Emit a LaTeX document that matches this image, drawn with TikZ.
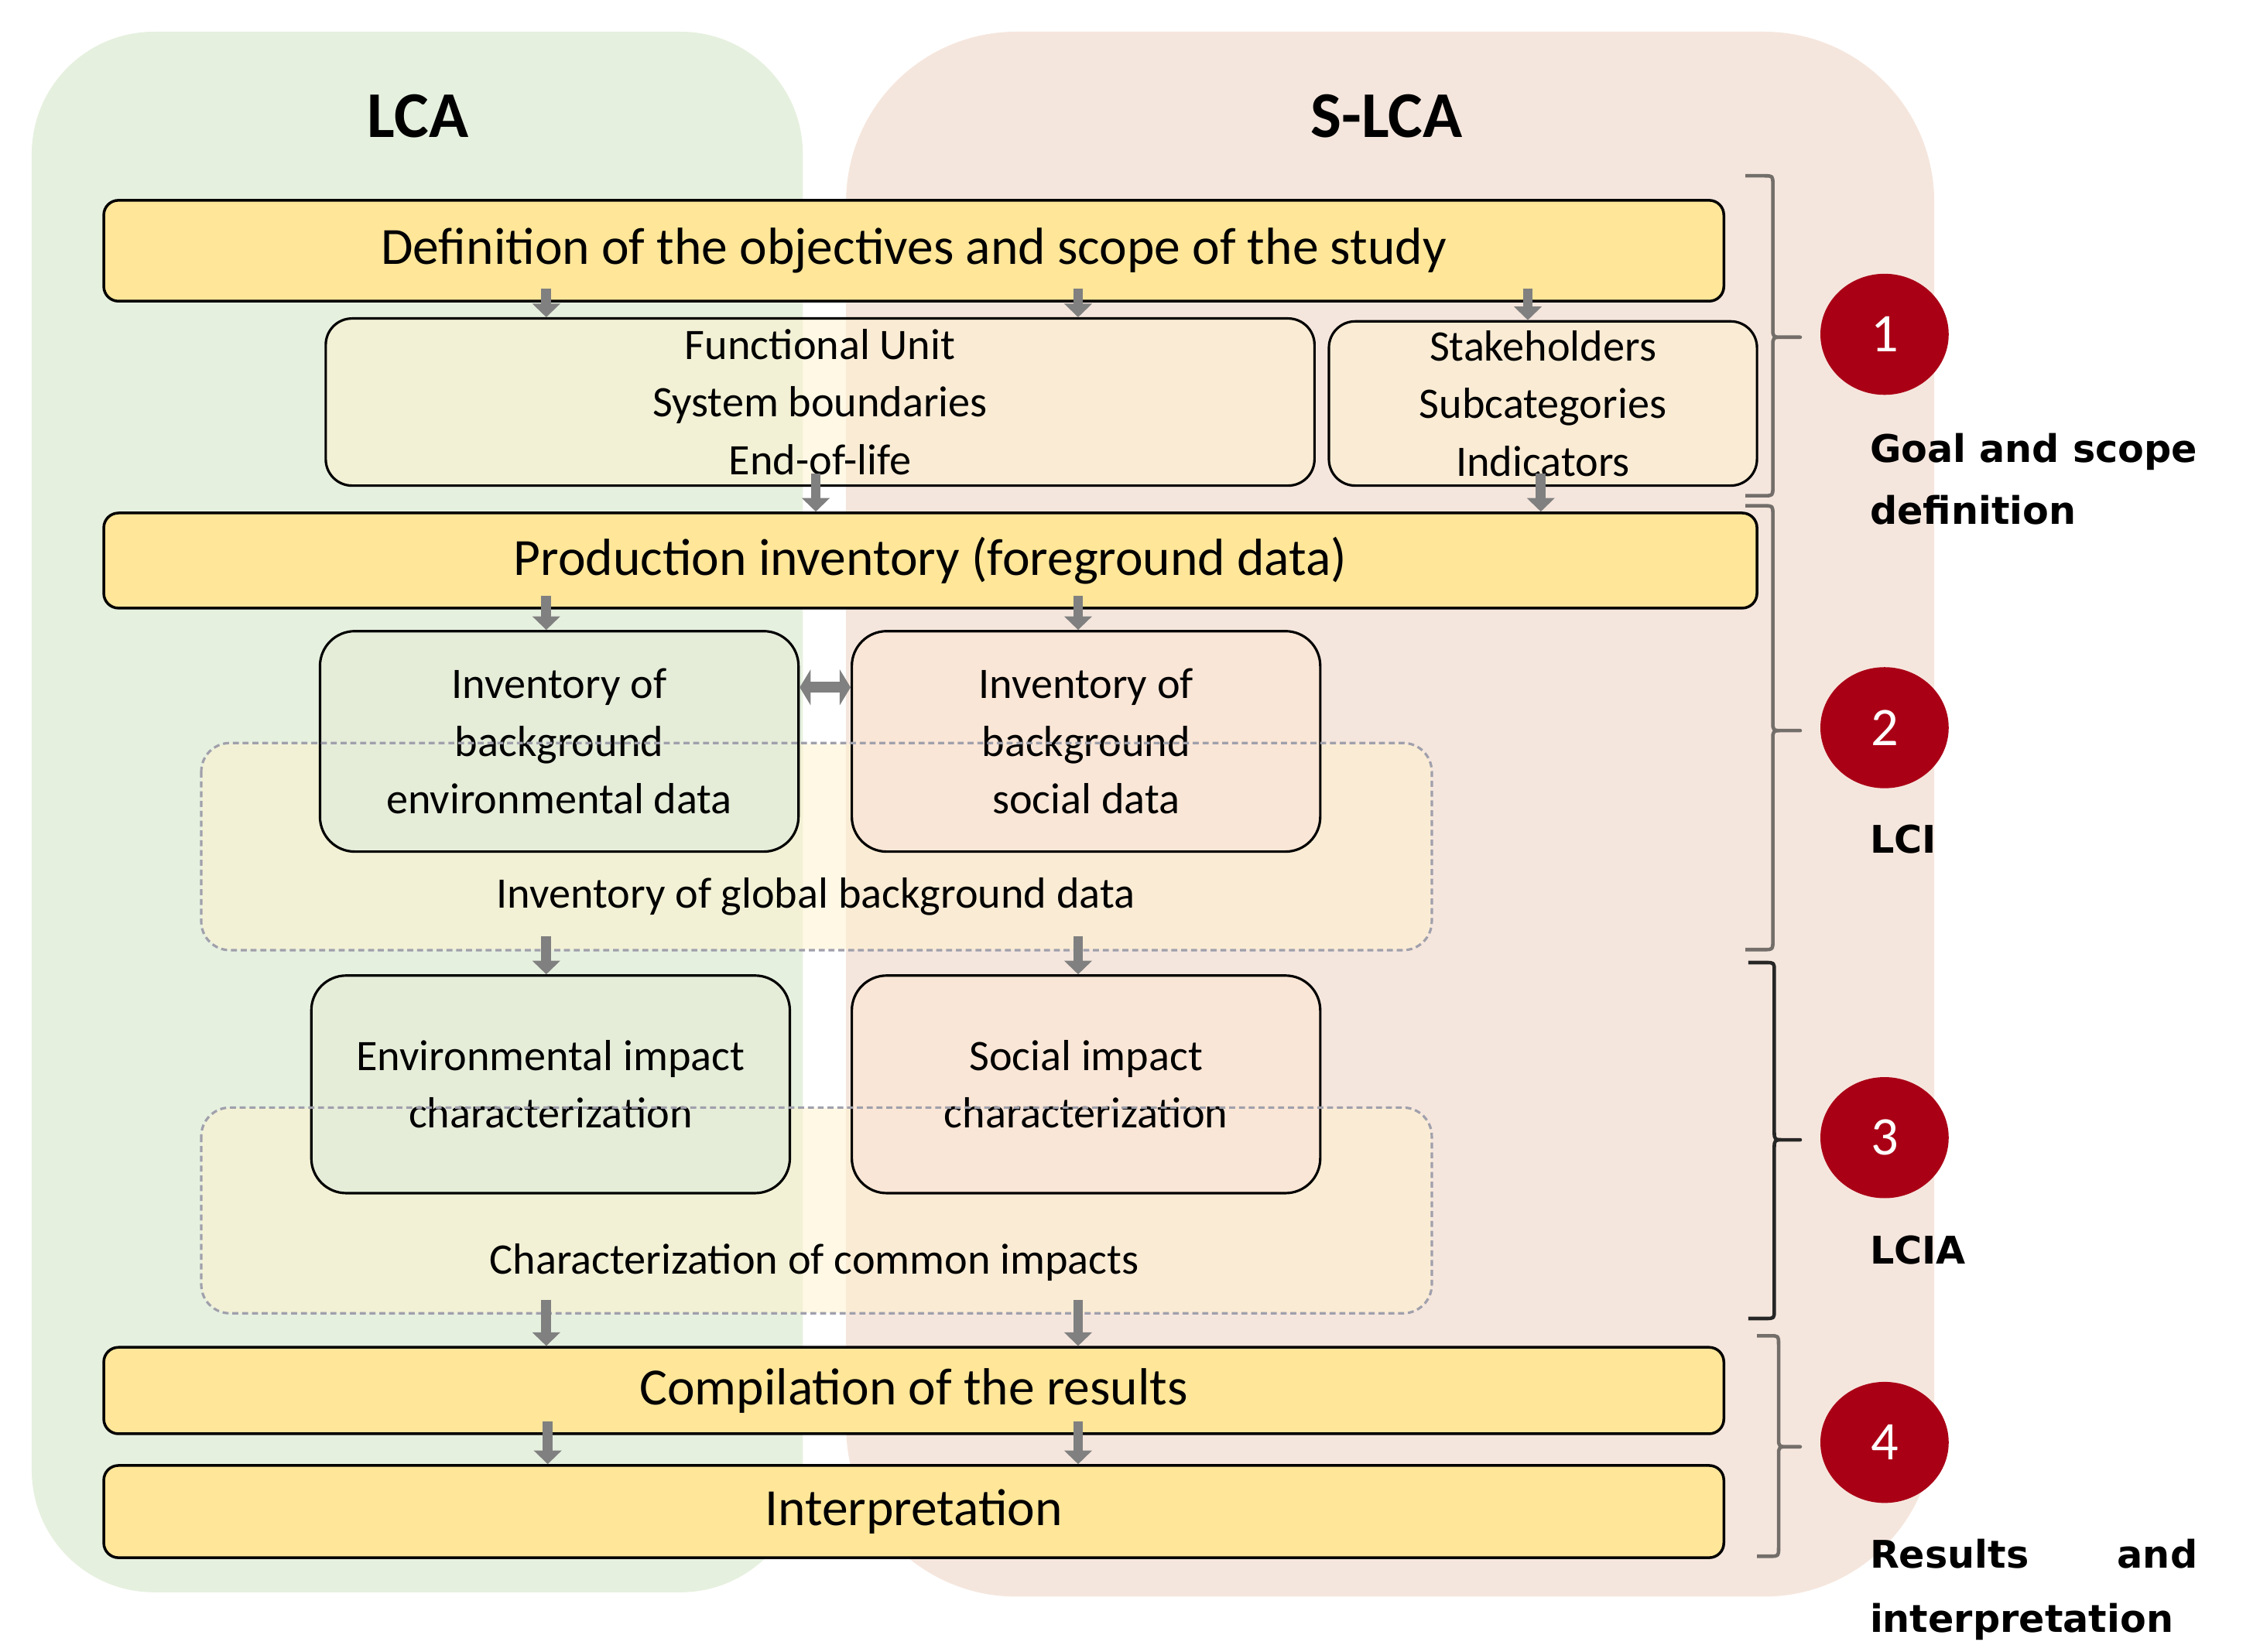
\documentclass[tikz,border=0pt]{standalone}
\usepackage{fontspec}
\setmainfont{Carlito}
\newfontfamily\labfont{DejaVu Sans}
\usetikzlibrary{arrows.meta,shapes.geometric,calc}

\definecolor{panelG}{RGB}{230,240,223}
\definecolor{panelS}{RGB}{245,230,221}
\definecolor{boxY}{RGB}{255,230,153}
\definecolor{paleY}{RGB}{255,242,204}
\definecolor{arrG}{RGB}{128,128,128}
\definecolor{numRed}{RGB}{170,0,22}
\definecolor{envF}{RGB}{229,237,217}
\definecolor{socF}{RGB}{250,230,214}
\definecolor{dashC}{RGB}{160,160,172}
\definecolor{braceC}{RGB}{115,110,106}

\newcommand{\mybrace}[6]{% hook x, vertical x, top, tip, bottom, colour
  \draw[#6, line width=1.3pt, line join=round]
    (#1,#3) -- ({#2-6},#3) .. controls (#2,#3) .. (#2,{#3+6})
    -- (#2,{#4-6}) .. controls (#2,#4) .. ({#2+7},#4) -- (1249,#4)
    -- ({#2+7},#4) .. controls (#2,#4) .. (#2,{#4+6})
    -- (#2,{#5-6}) .. controls (#2,#5) .. ({#2-6},#5) -- (#1,#5);
}

\begin{document}
\begin{tikzpicture}[x=0.01862cm,y=-0.01862cm,
  wh/.style 2 args={minimum width=#1*0.01862cm, minimum height=#2*0.01862cm},
  ybox/.style={draw=black, line width=1pt, fill=boxY, rounded corners=0.19cm,
    inner sep=0pt, font=\fontsize{19.2}{23}\selectfont},
  tbox/.style={draw=black, line width=0.9pt, fill=paleY, fill opacity=0.5,
    text opacity=1, rounded corners=0.34cm, inner sep=0pt, align=center,
    font=\fontsize{16}{21.2}\selectfont},
  ibox/.style={draw=black, line width=0.9pt, rounded corners=0.45cm,
    inner sep=0pt, align=center, font=\fontsize{16}{21.2}\selectfont},
  dbox/.style={fill=paleY, fill opacity=0.5, draw=none, rounded corners=0.37cm, inner sep=0pt},
  dashB/.style={draw=dashC, line width=0.9pt, dash pattern=on 2.2pt off 1.4pt, rounded corners=0.37cm},
  txt/.style={inner sep=0pt, font=\fontsize{16}{21.2}\selectfont},
  garrow/.style={draw=arrG, line width=3.6pt, -{Triangle[width=10pt,length=5pt]}, shorten <=-5pt},
  darrow/.style={draw=arrG, line width=4pt, {Triangle[width=13pt,length=4pt]}-{Triangle[width=13pt,length=4pt]}},
  ttl/.style={inner sep=0pt, font=\bfseries\fontsize{24}{28}\selectfont},
  lab/.style={inner sep=0pt, font=\labfont\bfseries\fontsize{14}{17}\selectfont},
  num/.style={ellipse, fill=numRed, minimum width=1.657cm, minimum height=1.564cm,
    inner sep=0pt, text=white, font=\fontsize{20}{24}\selectfont}
]
\path[use as bounding box] (0,0) rectangle (1568,1146);

% panels
\fill[panelG, rounded corners=1.58cm] (22,22) rectangle (557,1105);
\fill[panelS, rounded corners=2.2cm] (587,22) rectangle (1342,1108);

% titles
\node[ttl, anchor=base] (tLCA) at (290,95.5) {LCA};
\node[ttl, anchor=base] (tSLCA) at (962,95.5) {S-LCA};

% x positions for arrows
\coordinate (xA) at (379,0);
\coordinate (xB) at (748,0);
\coordinate (xC) at (1060,0);
\coordinate (xD) at (566,0);
\coordinate (xE) at (1069,0);
\coordinate (xF) at (380,0);
\coordinate (yDA) at (0,477);

% main boxes
\node[ybox, wh={1124}{70}] (def) at (634,174) {Definition of the objectives and scope of the study};
\node[tbox, wh={686}{116}] (fu) at (569,279) {Functional Unit\\System boundaries\\End-of-life};
\node[tbox, wh={297}{114}] (stk) at (1070.5,280) {Stakeholders\\Subcategories\\Indicators};
\node[ybox, wh={1147}{66}] (prod) at (645.5,389) {Production inventory (foreground data)};

% inventory stage
\node[dbox, wh={853}{143}] (glob) at (566.5,587.5) {};
\node[ibox, fill=envF, wh={332}{153}] (env) at (388,514.5) {Inventory of\\background\\environmental data};
\node[ibox, fill=socF, wh={325}{153}] (soc) at (753.5,514.5) {Inventory of\\background\\social data};
\draw[dashB] (glob.north west) rectangle (glob.south east);
\node[txt] (globT) at (566,622) {Inventory of global background data};

% impact stage
\node[dbox, wh={853}{142}] (comm) at (566.5,840) {};
\node[ibox, fill=envF, wh={332}{151}] (envI) at (382,752.5) {Environmental impact\\characterization};
\node[ibox, fill=socF, wh={325}{151}] (socI) at (753.5,752.5) {Social impact\\characterization};
\draw[dashB] (comm.north west) rectangle (comm.south east);
\node[txt] (commT) at (565,876) {Characterization of common impacts};

% results
\node[ybox, wh={1124}{60}] (comp) at (634,965) {Compilation of the results};
\node[ybox, wh={1124}{64}] (interp) at (634,1049) {Interpretation};

% arrows
\draw[garrow] (def.south -| xA) -- (fu.north -| xA);
\draw[garrow] (def.south -| xB) -- (fu.north -| xB);
\draw[garrow] (def.south -| xC) -- (stk.north -| xC);
\draw[garrow] (fu.south -| xD) -- (prod.north -| xD);
\draw[garrow] (stk.south -| xE) -- (prod.north -| xE);
\draw[garrow] (prod.south -| xA) -- (env.north -| xA);
\draw[garrow] (prod.south -| xB) -- (soc.north -| xB);
\draw[garrow] (glob.south -| xA) -- (envI.north -| xA);
\draw[garrow] (glob.south -| xB) -- (socI.north -| xB);
\draw[garrow] (comm.south -| xA) -- (comp.north -| xA);
\draw[garrow] (comm.south -| xB) -- (comp.north -| xB);
\draw[garrow] (comp.south -| xF) -- (interp.north -| xF);
\draw[garrow] (comp.south -| xB) -- (interp.north -| xB);
\draw[darrow] (env.east |- yDA) -- (soc.west |- yDA);

% braces
\mybrace{1211}{1230}{122}{234}{344}{braceC}
\mybrace{1211}{1230}{351}{507}{659}{braceC}
\mybrace{1213}{1231}{668}{791}{915}{black!85}
\mybrace{1219}{1234}{927}{1004}{1080}{braceC}

% step markers
\node[num] (c1) at (1307.5,232) {1};
\node[num] (c2) at (1307.5,505) {2};
\node[num] (c3) at (1307.5,789.5) {3};
\node[num] (c4) at (1307.5,1001) {4};

% step labels
\node[lab, anchor=base west] (g1) at (1297,320.6) {Goal and scope};
\node[lab, anchor=base west] (g2) at (1297,364) {definition};
\node[lab, anchor=base west] (l2) at (1297,592) {LCI};
\node[lab, anchor=base west] (l3) at (1297,877) {LCIA};
\node[lab, anchor=base west] (r1) at (1297,1088) {Results};
\node[lab, anchor=base east] (r2) at (1525,1088) {and};
\node[lab, anchor=base west] (r3) at (1297,1133) {interpretation};
\end{tikzpicture}
\end{document}
